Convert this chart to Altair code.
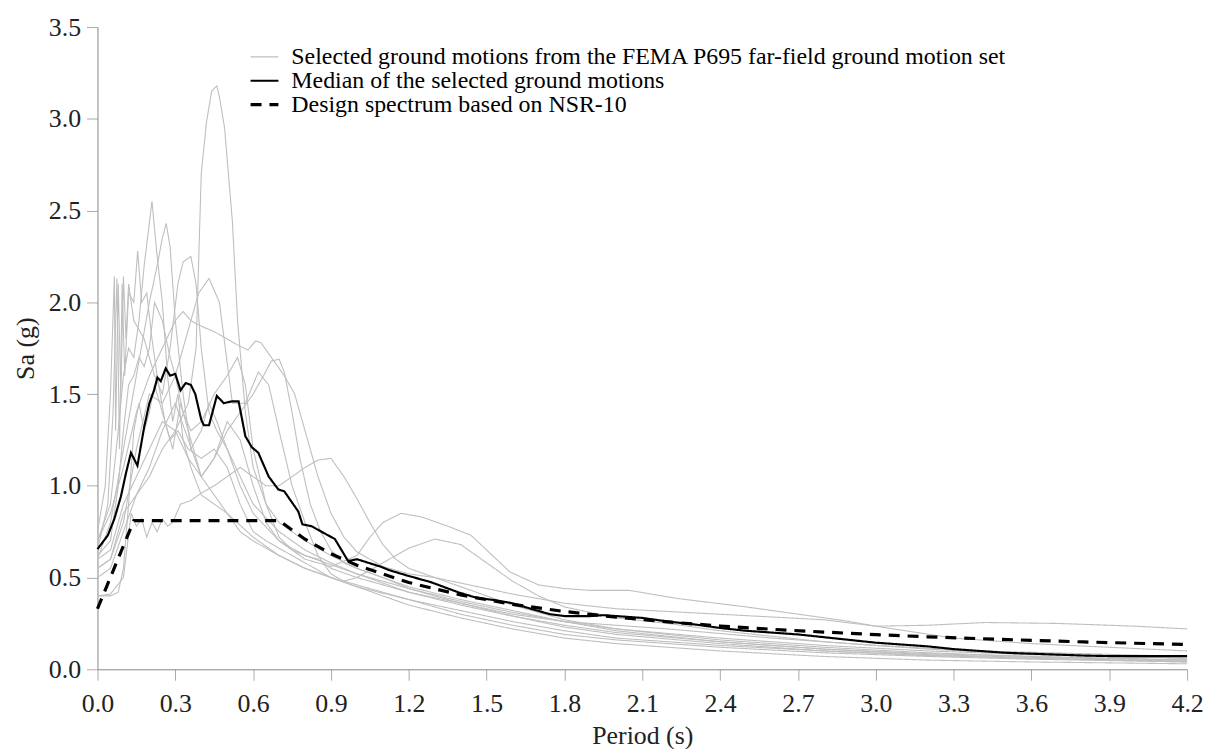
import altair as alt
import pandas as pd

FONT = "Liberation Serif"

GRAY = "Selected ground motions from the FEMA P695 far-field ground motion set"
MED = "Median of the selected ground motions"
DES = "Design spectrum based on NSR-10"

# ---- individual ground motion spectra (period s, Sa g) ----
gm1_T = [0, 0.05, 0.1, 0.15, 0.2, 0.25, 0.3, 0.35, 0.38, 0.4, 0.42, 0.44, 0.46, 0.47, 0.49, 0.52, 0.54, 0.57, 0.6, 0.65, 0.7, 0.8, 0.9, 1.0, 1.2, 1.4, 1.6, 1.8, 2.0, 2.4, 2.8, 3.2, 3.6, 4.2]
gm1_Sa = [0.55, 0.6, 0.85, 0.95, 1.05, 1.2, 1.3, 1.45, 1.75, 2.7, 2.98, 3.15, 3.18, 3.12, 2.95, 2.44, 1.9, 1.4, 1.1, 0.9, 0.8, 0.7, 0.62, 0.55, 0.45, 0.38, 0.32, 0.26, 0.21, 0.15, 0.11, 0.08, 0.065, 0.05]

gm2_T = [0, 0.05, 0.08, 0.1, 0.12, 0.14, 0.16, 0.18, 0.21, 0.23, 0.25, 0.27, 0.29, 0.31, 0.33, 0.36, 0.4, 0.45, 0.5, 0.55, 0.6, 0.7, 0.8, 0.9, 1.0, 1.2, 1.4, 1.6, 1.8, 2.0, 2.4, 2.8, 3.2, 3.6, 4.2]
gm2_Sa = [0.7, 0.9, 1.3, 1.6, 1.75, 1.7, 1.9, 2.2, 2.55, 2.25, 2.0, 1.6, 1.35, 1.5, 1.25, 1.1, 0.95, 0.9, 0.85, 0.75, 0.7, 0.62, 0.55, 0.5, 0.45, 0.38, 0.3, 0.24, 0.19, 0.16, 0.12, 0.09, 0.07, 0.055, 0.04]

gm3_T = [0, 0.05, 0.1, 0.15, 0.2, 0.23, 0.25, 0.265, 0.28, 0.3, 0.33, 0.36, 0.4, 0.43, 0.46, 0.5, 0.55, 0.6, 0.7, 0.8, 0.9, 1.0, 1.2, 1.4, 1.6, 1.8, 2.0, 2.4, 2.8, 3.2, 3.6, 4.2]
gm3_Sa = [0.6, 0.8, 1.2, 1.6, 2.0, 2.2, 2.35, 2.43, 2.3, 1.9, 1.5, 1.2, 1.3, 1.45, 1.35, 1.2, 1.0, 0.85, 0.7, 0.62, 0.57, 0.52, 0.44, 0.37, 0.31, 0.26, 0.22, 0.17, 0.13, 0.1, 0.08, 0.06]

gm4_T = [0, 0.03, 0.05, 0.065, 0.07, 0.08, 0.09, 0.1, 0.11, 0.12, 0.14, 0.16, 0.18, 0.2, 0.22, 0.25, 0.28, 0.31, 0.33, 0.36, 0.38, 0.4, 0.43, 0.46, 0.5, 0.55, 0.6, 0.7, 0.8, 0.9, 1.0, 1.2, 1.4, 1.6, 1.8, 2.0, 2.4, 2.8, 3.2, 3.6, 4.2]
gm4_Sa = [0.75, 1.0, 1.5, 2.14, 1.3, 2.1, 1.5, 2.14, 1.8, 2.1, 1.9, 1.85, 1.8, 1.7, 1.6, 1.5, 1.75, 2.1, 2.22, 2.25, 2.1, 1.75, 1.4, 1.3, 1.2, 1.05, 0.9, 0.75, 0.65, 0.58, 0.52, 0.42, 0.35, 0.29, 0.24, 0.2, 0.15, 0.11, 0.085, 0.07, 0.05]

gm5_T = [0, 0.04, 0.06, 0.075, 0.085, 0.095, 0.105, 0.12, 0.14, 0.155, 0.17, 0.19, 0.21, 0.23, 0.26, 0.29, 0.32, 0.35, 0.4, 0.45, 0.5, 0.6, 0.7, 0.8, 0.9, 1.0, 1.2, 1.4, 1.6, 1.8, 2.0, 2.4, 2.8, 3.2, 3.6, 4.2]
gm5_Sa = [0.65, 0.9, 1.4, 2.13, 1.2, 2.1, 1.6, 2.05, 2.0, 2.28, 2.0, 2.05, 1.8, 1.6, 1.35, 1.2, 1.45, 1.3, 1.05, 0.95, 0.85, 0.72, 0.62, 0.55, 0.5, 0.46, 0.38, 0.32, 0.26, 0.21, 0.17, 0.13, 0.1, 0.075, 0.06, 0.045]

gm6_T = [0, 0.05, 0.1, 0.13, 0.15, 0.17, 0.19, 0.21, 0.23, 0.25, 0.27, 0.29, 0.32, 0.36, 0.4, 0.45, 0.5, 0.55, 0.6, 0.65, 0.7, 0.75, 0.8, 0.85, 0.9, 0.95, 1.0, 1.05, 1.1, 1.15, 1.2, 1.3, 1.4, 1.6, 1.8, 2.0, 2.4, 2.8, 3.2, 3.6, 4.2]
gm6_Sa = [0.4, 0.41, 0.5, 0.85, 0.78, 0.82, 0.72, 0.8, 0.75, 0.82, 0.78, 0.8, 0.9, 0.92, 0.96, 1.0, 1.05, 1.1, 1.05, 1.0, 1.0, 1.05, 1.1, 1.14, 1.15, 1.05, 0.93, 0.8, 0.68, 0.6, 0.55, 0.5, 0.45, 0.35, 0.27, 0.22, 0.16, 0.12, 0.09, 0.07, 0.05]

gm7_T = [0, 0.05, 0.1, 0.15, 0.2, 0.25, 0.3, 0.35, 0.4, 0.45, 0.5, 0.55, 0.6, 0.65, 0.7, 0.8, 0.9, 1.0, 1.05, 1.1, 1.17, 1.25, 1.35, 1.44, 1.5, 1.59, 1.7, 1.8, 1.9, 2.05, 2.24, 2.5, 2.88, 3.0, 3.2, 3.42, 3.7, 4.0, 4.2]
gm7_Sa = [0.5, 0.55, 0.75, 0.95, 1.1, 1.3, 1.45, 1.25, 1.05, 1.15, 1.35, 1.25, 1.0, 0.8, 0.7, 0.6, 0.56, 0.62, 0.72, 0.8, 0.85, 0.83, 0.78, 0.73, 0.65, 0.53, 0.46, 0.44, 0.43, 0.43, 0.385, 0.34, 0.265, 0.235, 0.24, 0.255, 0.25, 0.235, 0.22]

gm8_T = [0, 0.05, 0.1, 0.15, 0.2, 0.25, 0.3, 0.33, 0.36, 0.4, 0.45, 0.5, 0.55, 0.58, 0.61, 0.63, 0.66, 0.69, 0.72, 0.76, 0.8, 0.85, 0.9, 0.95, 1.0, 1.1, 1.2, 1.3, 1.4, 1.6, 1.8, 2.0, 2.4, 2.8, 3.0, 3.3, 3.6, 4.2]
gm8_Sa = [0.7, 0.85, 1.1, 1.4, 1.6, 1.75, 1.9, 1.95, 1.9, 1.87, 1.84, 1.8, 1.76, 1.74, 1.79, 1.78, 1.72, 1.66, 1.6, 1.5, 1.3, 1.05, 0.85, 0.72, 0.64, 0.56, 0.52, 0.5, 0.47, 0.41, 0.36, 0.33, 0.3, 0.27, 0.235, 0.17, 0.14, 0.1]

gm9_T = [0, 0.05, 0.1, 0.15, 0.2, 0.25, 0.3, 0.35, 0.4, 0.45, 0.5, 0.55, 0.6, 0.64, 0.67, 0.7, 0.72, 0.75, 0.78, 0.82, 0.86, 0.9, 0.95, 1.0, 1.1, 1.2, 1.3, 1.4, 1.6, 1.8, 2.0, 2.4, 2.8, 3.2, 3.6, 4.2]
gm9_Sa = [0.6, 0.65, 0.9, 1.05, 1.2, 1.35, 1.3, 1.15, 1.05, 1.15, 1.3, 1.4, 1.5, 1.6, 1.68, 1.69, 1.62, 1.4, 1.15, 0.9, 0.75, 0.65, 0.58, 0.55, 0.5, 0.44, 0.4, 0.36, 0.29, 0.23, 0.19, 0.14, 0.1, 0.075, 0.06, 0.04]

gm10_T = [0, 0.05, 0.1, 0.15, 0.2, 0.25, 0.3, 0.35, 0.39, 0.43, 0.47, 0.52, 0.57, 0.62, 0.66, 0.7, 0.75, 0.8, 0.85, 0.9, 0.95, 1.0, 1.1, 1.2, 1.3, 1.4, 1.5, 1.6, 1.7, 1.8, 2.0, 2.2, 2.4, 2.8, 3.2, 3.6, 4.2]
gm10_Sa = [0.55, 0.6, 0.8, 1.2, 1.5, 1.45, 1.6, 1.85, 2.05, 2.13, 2.0, 1.45, 1.45, 1.62, 1.55, 1.3, 1.0, 0.8, 0.62, 0.52, 0.48, 0.5, 0.58, 0.66, 0.71, 0.68, 0.58, 0.48, 0.4, 0.34, 0.28, 0.25, 0.21, 0.15, 0.11, 0.08, 0.06]

gm11_T = [0, 0.05, 0.08, 0.1, 0.12, 0.14, 0.16, 0.18, 0.2, 0.22, 0.25, 0.28, 0.31, 0.35, 0.4, 0.45, 0.5, 0.55, 0.6, 0.65, 0.7, 0.8, 0.9, 1.0, 1.1, 1.2, 1.4, 1.6, 1.8, 2.0, 2.4, 2.8, 3.2, 3.6, 4.2]
gm11_Sa = [0.4, 0.4, 0.42, 0.55, 0.9, 1.3, 1.45, 1.3, 1.4, 1.55, 1.4, 1.25, 1.3, 1.2, 1.15, 1.2, 1.1, 0.9, 0.75, 0.7, 0.66, 0.58, 0.5, 0.45, 0.4, 0.35, 0.28, 0.22, 0.17, 0.14, 0.1, 0.07, 0.05, 0.04, 0.03]

gm12_T = [0, 0.05, 0.08, 0.1, 0.12, 0.14, 0.16, 0.18, 0.2, 0.22, 0.25, 0.28, 0.3, 0.33, 0.36, 0.4, 0.45, 0.5, 0.54, 0.57, 0.6, 0.65, 0.7, 0.75, 0.8, 0.85, 0.9, 1.0, 1.1, 1.2, 1.4, 1.6, 1.8, 2.0, 2.2, 2.6, 3.0, 3.4, 3.8, 4.2]
gm12_Sa = [0.62, 0.7, 1.0, 1.3, 1.55, 1.6, 1.7, 1.65, 1.75, 2.0, 1.9, 1.7, 1.6, 1.4, 1.3, 1.35, 1.5, 1.6, 1.7, 1.55, 1.2, 0.9, 0.72, 0.65, 0.62, 0.6, 0.55, 0.5, 0.46, 0.42, 0.36, 0.3, 0.26, 0.24, 0.22, 0.17, 0.13, 0.1, 0.085, 0.07]

# ---- median of the selected records ----
median_T = [0, 0.04, 0.065, 0.09, 0.11, 0.129, 0.154, 0.18, 0.2, 0.218, 0.231, 0.244, 0.263, 0.28, 0.3, 0.32, 0.34, 0.36, 0.377, 0.4, 0.41, 0.43, 0.46, 0.487, 0.517, 0.544, 0.57, 0.595, 0.62, 0.66, 0.697, 0.72, 0.774, 0.79, 0.825, 0.876, 0.915, 0.966, 1.0, 1.09, 1.125, 1.196, 1.285, 1.39, 1.46, 1.54, 1.6, 1.67, 1.745, 1.8, 1.9, 1.95, 2.0, 2.1, 2.2, 2.3, 2.4, 2.5, 2.6, 2.7, 2.8, 2.9, 3.0, 3.1, 3.2, 3.3, 3.4, 3.5, 3.6, 3.7, 3.8, 3.9, 4.0, 4.2]
median_Sa = [0.655, 0.73, 0.82, 0.94, 1.07, 1.18, 1.11, 1.32, 1.45, 1.52, 1.59, 1.57, 1.64, 1.6, 1.61, 1.52, 1.56, 1.55, 1.5, 1.36, 1.33, 1.33, 1.49, 1.45, 1.46, 1.46, 1.27, 1.21, 1.18, 1.05, 0.98, 0.97, 0.86, 0.79, 0.78, 0.74, 0.71, 0.59, 0.6, 0.56, 0.54, 0.51, 0.475, 0.42, 0.39, 0.375, 0.36, 0.33, 0.3, 0.29, 0.29, 0.295, 0.29, 0.28, 0.26, 0.245, 0.225, 0.21, 0.2, 0.19, 0.175, 0.16, 0.145, 0.135, 0.125, 0.11, 0.1, 0.09, 0.085, 0.08, 0.075, 0.072, 0.072, 0.072]

# ---- NSR-10 design spectrum ----
design_T = [0, 0.14, 0.7, 0.8, 0.9, 1.0, 1.2, 1.4, 1.6, 1.8, 2.0, 2.2, 2.4, 2.6, 2.8, 3.0, 3.2, 3.4, 3.6, 3.8, 4.0, 4.2]
design_Sa = [0.33, 0.81, 0.81, 0.709, 0.63, 0.567, 0.473, 0.405, 0.354, 0.315, 0.284, 0.258, 0.236, 0.218, 0.203, 0.189, 0.177, 0.167, 0.158, 0.149, 0.142, 0.135]

x_ticks = [0.0, 0.3, 0.6, 0.9, 1.2, 1.5, 1.8, 2.1, 2.4, 2.7, 3.0, 3.3, 3.6, 3.9, 4.2]
y_ticks = [0.0, 0.5, 1.0, 1.5, 2.0, 2.5, 3.0, 3.5]

gms = [(gm1_T, gm1_Sa), (gm2_T, gm2_Sa), (gm3_T, gm3_Sa), (gm4_T, gm4_Sa),
       (gm5_T, gm5_Sa), (gm6_T, gm6_Sa), (gm7_T, gm7_Sa), (gm8_T, gm8_Sa),
       (gm9_T, gm9_Sa), (gm10_T, gm10_Sa), (gm11_T, gm11_Sa), (gm12_T, gm12_Sa)]

rows = []
for i, (ts, sas) in enumerate(gms):
    for k, (t, s) in enumerate(zip(ts, sas)):
        rows.append({"T": t, "Sa": s, "rec": f"gm{i+1}", "series": GRAY, "ord": k})
gray_df = pd.DataFrame(rows)
med_df = pd.DataFrame({"T": median_T, "Sa": median_Sa, "rec": "median", "series": MED,
                       "ord": list(range(len(median_T)))})
des_df = pd.DataFrame({"T": design_T, "Sa": design_Sa, "rec": "design", "series": DES,
                       "ord": list(range(len(design_T)))})

domain = [GRAY, MED, DES]

x_enc = alt.X("T:Q", scale=alt.Scale(domain=[0, 4.2], nice=False),
              axis=alt.Axis(values=x_ticks, format=".1f", title="Period (s)",
                            labelFlush=False, labelPadding=10, titlePadding=7))
y_enc = alt.Y("Sa:Q", scale=alt.Scale(domain=[0, 3.5], nice=False),
              axis=alt.Axis(values=y_ticks, format=".1f", title="Sa (g)",
                            labelFlush=False, labelPadding=6, titlePadding=10))
color_enc = alt.Color("series:N", scale=alt.Scale(domain=domain, range=["#bfbfbf", "#000000", "#000000"]),
                      legend=alt.Legend(title=None, orient="none", legendX=152, legendY=18,
                                        symbolType="stroke", symbolSize=784, clipHeight=24,
                                        labelFont=FONT, labelFontSize=24, labelColor="#000000",
                                        labelLimit=1000, rowPadding=0, symbolOffset=0,
                                        labelOffset=11, padding=0))
dash_enc = alt.StrokeDash("series:N", scale=alt.Scale(domain=domain, range=[[1, 0], [1, 0], [11, 8]]),
                          legend=alt.Legend(title=None))
width_enc = alt.StrokeWidth("series:N", scale=alt.Scale(domain=domain, range=[1.1, 3.2, 3]),
                            legend=alt.Legend(title=None))


def layer(df):
    return alt.Chart(df).mark_line().encode(
        x=x_enc, y=y_enc, color=color_enc, strokeDash=dash_enc, strokeWidth=width_enc,
        detail="rec:N", order="ord:Q")


chart = alt.layer(layer(gray_df), layer(des_df), layer(med_df)).properties(
    width=1096, height=646,
    padding={"left": 90, "top": 17, "right": 18, "bottom": 78},
    autosize=alt.AutoSizeParams(type="none"),
    background="white",
).configure_view(stroke=None).configure_axis(
    labelFont=FONT, labelFontSize=26, labelColor="#222222",
    titleFont=FONT, titleFontSize=26, titleFontWeight="normal", titleColor="#222222",
    domainColor="#888888", tickColor="#aaaaaa", tickSize=11, grid=False,
)

chart.save("out.html", embed_options={"renderer": "svg", "actions": False})
